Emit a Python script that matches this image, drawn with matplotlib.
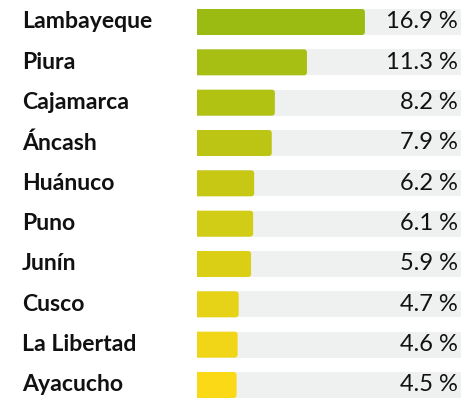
import matplotlib.pyplot as plt
from matplotlib.patches import FancyBboxPatch, Rectangle
from matplotlib.colors import to_rgb
import numpy as np

regions = ['Lambayeque', 'Piura', 'Cajamarca', 'Áncash', 'Huánuco',
           'Puno', 'Junín', 'Cusco', 'La Libertad', 'Ayacucho']
shares = [16.9, 11.3, 8.2, 7.9, 6.2, 6.1, 5.9, 4.7, 4.6, 4.5]
labels = ['16.9 %', '11.3 %', '8.2 %', '7.9 %', '6.2 %',
          '6.1 %', '5.9 %', '4.7 %', '4.6 %', '4.5 %']

W, H = 471, 401
px_x = 10.35               # pixels per percentage point
x0 = 7 / px_x              # bars start a bit left of the visible track
x1 = x0 + 264 / px_x
bar_h = 0.645
c_top = np.array(to_rgb('#9cbb12'))
c_bot = np.array(to_rgb('#fbd917'))

fig = plt.figure(figsize=(W / 100, H / 100), dpi=100)
ax = fig.add_axes([197 / W, 0, 264 / W, 1])
ax.set_xlim(x0, x1)
px_y = (385 - 22) / 9
ax.set_ylim(9 + (H - 385) / px_y, -22 / px_y)
ax.axis('off')

aspect = px_x / px_y
r = 3 / px_x

n = len(regions)
for i, (name, v, lab) in enumerate(zip(regions, shares, labels)):
    col = c_top + (c_bot - c_top) * i / (n - 1)
    ax.add_patch(Rectangle((x0, i - bar_h / 2), x1 - x0, bar_h,
                           facecolor='#eff0f0', edgecolor='none'))
    ax.add_patch(FancyBboxPatch((0, i - bar_h / 2), v, bar_h,
                                boxstyle=f'round,pad=0,rounding_size={r}',
                                mutation_aspect=aspect,
                                facecolor=col, edgecolor='none'))
    ax.text(x0 - 175 / px_x, i, name, ha='left', va='center', fontsize=16.6,
            fontweight='bold', family='Lato', color='#111111', clip_on=False)
    ax.text(x1 - 3 / px_x, i, lab, ha='right', va='center', fontsize=17,
            family='Lato', color='#111111')

fig.savefig('out.png', dpi=100)
